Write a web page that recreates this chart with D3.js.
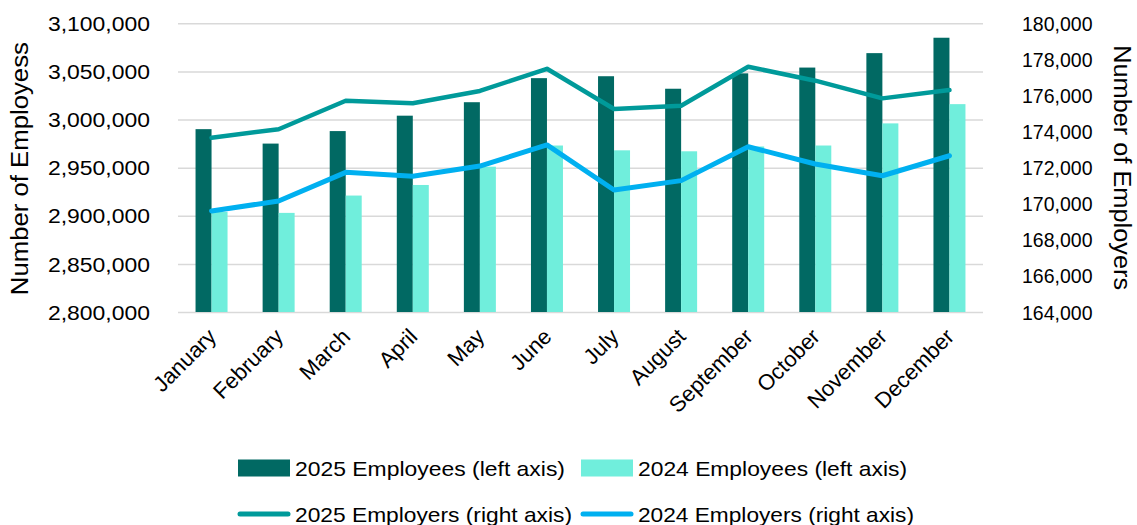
<!DOCTYPE html>
<html>
<head>
<meta charset="utf-8">
<script src="https://cdn.jsdelivr.net/npm/d3@7"></script>
<style>
  html, body { margin: 0; padding: 0; background: #fff; }
  svg { display: block; font-family: "Liberation Sans", Arial, sans-serif; }
</style>
</head>
<body>
<svg id="chart" width="1137" height="525"></svg>
<script>
// Monthly employment: employees (bars, left axis) and employers (lines, right axis)
const months = ["January", "February", "March", "April", "May", "June",
                "July", "August", "September", "October", "November", "December"];

const employees2025 = [2990000, 2975000, 2988000, 3004000, 3018000, 3043000,
                       3045000, 3032000, 3048000, 3054000, 3069000, 3085000];
const employees2024 = [2904000, 2903000, 2921000, 2932000, 2951000, 2973000,
                       2968000, 2967000, 2972000, 2973000, 2996000, 3016000];

const employers2025 = [173660, 174130, 175710, 175570, 176250, 177480,
                       175250, 175430, 177590, 176820, 175840, 176300];
const employers2024 = [169600, 170150, 171740, 171520, 172090, 173260,
                       170760, 171280, 173160, 172200, 171550, 172660];

const leftTicks  = [2800000, 2850000, 2900000, 2950000, 3000000, 3050000, 3100000];
const rightTicks = [164000, 166000, 168000, 170000, 172000, 174000, 176000, 178000, 180000];

const seriesNames = ["2025 Employees (left axis)", "2024 Employees (left axis)",
                     "2025 Employers (right axis)", "2024 Employers (right axis)"];

const colors = {
  bar2025: "#016963",
  bar2024: "#70EEDC",
  line2025: "#009A9A",
  line2024: "#00B0F0",
  grid: "#D9D9D9",
  text: "#000000"
};

const plot = { left: 178, right: 983, top: 23.3, bottom: 312 };

const svg = d3.select("#chart");

const x0 = d3.scaleBand()
  .domain(months)
  .range([plot.left, plot.right])
  .paddingInner(0.523)
  .paddingOuter(0.2615);

const x1 = d3.scaleBand()
  .domain(["2025", "2024"])
  .range([0, x0.bandwidth()]);

const yLeft = d3.scaleLinear()
  .domain([2800000, 3100000])
  .range([plot.bottom, plot.top]);

const yRight = d3.scaleLinear()
  .domain([164000, 180000])
  .range([plot.bottom, plot.top]);

const fmt = d3.format(",");

// Horizontal gridlines from the left axis ticks
svg.append("g")
  .attr("class", "grid")
  .attr("transform", `translate(${plot.left},0)`)
  .call(d3.axisLeft(yLeft).tickValues(leftTicks).tickSize(-(plot.right - plot.left)).tickFormat(""))
  .call(g => g.select(".domain").remove())
  .call(g => g.selectAll("line").attr("stroke", colors.grid).attr("stroke-width", 1.5));

// Left axis labels
svg.append("g")
  .attr("transform", `translate(${plot.left},0)`)
  .call(d3.axisLeft(yLeft).tickValues(leftTicks).tickSize(0).tickPadding(28).tickFormat(fmt))
  .call(g => g.select(".domain").remove())
  .call(g => g.selectAll("text")
    .attr("fill", colors.text)
    .style("font-size", "20px")
    .style("font-family", "'Liberation Sans', Arial, sans-serif")
    .attr("textLength", 102)
    .attr("lengthAdjust", "spacingAndGlyphs")
    .attr("dy", "0.36em"));

// Right axis labels
svg.append("g")
  .attr("transform", `translate(${plot.right},0)`)
  .call(d3.axisRight(yRight).tickValues(rightTicks).tickSize(0).tickPadding(39).tickFormat(fmt))
  .call(g => g.select(".domain").remove())
  .call(g => g.selectAll("text")
    .attr("fill", colors.text)
    .style("font-size", "19.5px")
    .style("font-family", "'Liberation Sans', Arial, sans-serif")
    .attr("dy", "0.36em"));

// Bottom category labels, rotated
svg.append("g")
  .attr("transform", `translate(0,${plot.bottom})`)
  .call(d3.axisBottom(x0).tickSize(0).tickPadding(0))
  .call(g => g.select(".domain").remove())
  .call(g => g.selectAll("text")
    .attr("fill", colors.text)
    .style("font-size", "22px")
    .style("font-family", "'Liberation Sans', Arial, sans-serif")
    .attr("text-anchor", "end")
    .attr("dy", "0")
    .attr("transform", "translate(6,26) rotate(-45)"));

// Bars
const barData = months.map((m, i) => ({ month: m, values: [
  { key: "2025", value: employees2025[i] },
  { key: "2024", value: employees2024[i] }
]}));

svg.append("g")
  .selectAll("g")
  .data(barData)
  .join("g")
  .attr("transform", d => `translate(${x0(d.month)},0)`)
  .selectAll("rect")
  .data(d => d.values)
  .join("rect")
  .attr("x", d => x1(d.key))
  .attr("width", x1.bandwidth())
  .attr("y", d => yLeft(d.value))
  .attr("height", d => yLeft.range()[0] - yLeft(d.value))
  .attr("fill", d => d.key === "2025" ? colors.bar2025 : colors.bar2024);

// Employer lines on the right axis
const line = d3.line()
  .x((d, i) => x0(months[i]) + x0.bandwidth() / 2)
  .y(d => yRight(d));

svg.append("path")
  .datum(employers2025)
  .attr("d", line)
  .attr("fill", "none")
  .attr("stroke", colors.line2025)
  .attr("stroke-width", 4.5)
  .attr("stroke-linejoin", "round")
  .attr("stroke-linecap", "round");

svg.append("path")
  .datum(employers2024)
  .attr("d", line)
  .attr("fill", "none")
  .attr("stroke", colors.line2024)
  .attr("stroke-width", 5)
  .attr("stroke-linejoin", "round")
  .attr("stroke-linecap", "round");

// Axis titles
svg.append("text")
  .attr("transform", `translate(28,${(plot.top + plot.bottom) / 2 + 1}) rotate(-90)`)
  .attr("text-anchor", "middle")
  .style("font-size", "23px")
  .attr("textLength", 253)
  .attr("lengthAdjust", "spacingAndGlyphs")
  .attr("fill", colors.text)
  .text("Number of Employess");

svg.append("text")
  .attr("transform", `translate(1114,${(plot.top + plot.bottom) / 2}) rotate(90)`)
  .attr("text-anchor", "middle")
  .style("font-size", "23px")
  .attr("textLength", 245)
  .attr("lengthAdjust", "spacingAndGlyphs")
  .attr("fill", colors.text)
  .text("Number of Employers");

// Legend
const legendItems = [
  { name: seriesNames[0], type: "rect", color: colors.bar2025, x: 238, y: 468, w: 270 },
  { name: seriesNames[1], type: "rect", color: colors.bar2024, x: 581, y: 468, w: 269 },
  { name: seriesNames[2], type: "line", color: colors.line2025, x: 238, y: 514, w: 277 },
  { name: seriesNames[3], type: "line", color: colors.line2024, x: 581, y: 514, w: 276 }
];

const legend = svg.append("g").attr("class", "legend");
legendItems.forEach(item => {
  const g = legend.append("g").attr("transform", `translate(${item.x},${item.y})`);
  if (item.type === "rect") {
    g.append("rect").attr("x", 0).attr("y", -8.5).attr("width", 52).attr("height", 17).attr("fill", item.color);
  } else {
    g.append("line").attr("x1", 2).attr("x2", 50).attr("y1", 0).attr("y2", 0)
      .attr("stroke", item.color).attr("stroke-width", 5).attr("stroke-linecap", "round");
  }
  g.append("text")
    .attr("x", 57)
    .attr("y", 0)
    .attr("dy", "0.36em")
    .style("font-size", "21px")
    .attr("textLength", item.w)
    .attr("lengthAdjust", "spacingAndGlyphs")
    .attr("fill", colors.text)
    .text(item.name);
});
</script>
</body>
</html>
